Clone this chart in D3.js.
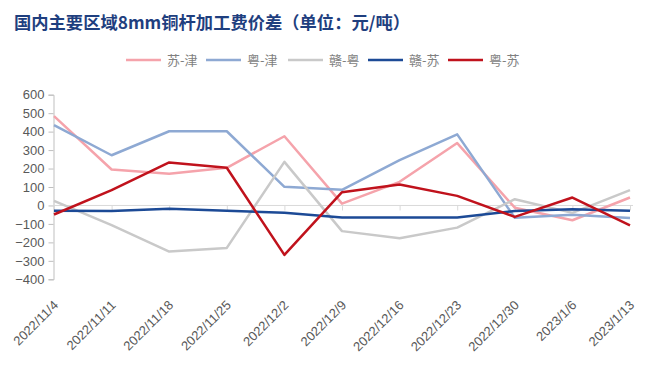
<!DOCTYPE html>
<html><head><meta charset="utf-8">
<script src="https://cdn.jsdelivr.net/npm/d3@7"></script>
<style>html,body{margin:0;padding:0;background:#fff;}svg{display:block;}</style>
</head><body>
<script>
const titleText = "国内主要区域8mm铜杆加工费价差（单位：元/吨）";
const dates = ["2022/11/4","2022/11/11","2022/11/18","2022/11/25","2022/12/2","2022/12/9","2022/12/16","2022/12/23","2022/12/30","2023/1/6","2023/1/13"];
const seriesNames = ["苏-津","粤-津","赣-粤","赣-苏","粤-苏"];
const suJin  = [484, 195, 172, 204, 375, 10, 128, 338, -12, -80, 43];
const yueJin = [435, 272, 402, 402, 101, 85, 245, 385, -67, -50, -68];
const ganYue = [25, -107, -250, -230, 236, -139, -178, -120, 34, -40, 83];
const ganSu  = [-28, -30, -18, -28, -40, -65, -65, -65, -30, -20, -28];
const yueSu  = [-49, 83, 233, 204, -268, 72, 114, 52, -62, 43, -108];
const yTicks = [600,500,400,300,200,100,0,-100,-200,-300,-400];
const colors = ["#F5A3AB","#8EA9D3","#C9C9C9","#1C4A96","#C0121C"];

const W = 653, H = 369;
const svg = d3.select("body").append("svg").attr("width", W).attr("height", H);

const x = d3.scalePoint().domain(dates).range([54, 630]);
const y = d3.scaleLinear().domain([-400, 600]).range([279.3, 94.7]);

// title
svg.append("text").attr("x", 14).attr("y", 29)
  .attr("font-family", "'Noto Sans CJK SC', sans-serif").attr("font-weight", "bold")
  .attr("font-size", 17).attr("fill", "#1F3F7F")
  .attr("textLength", 396).attr("lengthAdjust", "spacingAndGlyphs")
  .text(titleText);

// legend
const legendX = [126, 206, 288, 368, 448];
const lg = svg.append("g");
seriesNames.forEach((n, i) => {
  lg.append("line").attr("x1", legendX[i]).attr("x2", legendX[i] + 35)
    .attr("y1", 60).attr("y2", 60).attr("stroke", colors[i]).attr("stroke-width", 2.5);
  lg.append("text").attr("x", legendX[i] + 41).attr("y", 64.5)
    .attr("font-family", "'Noto Sans CJK SC', sans-serif").attr("font-size", 13)
    .attr("fill", "#7F7F7F").text(n);
});

// y axis
const yAxis = svg.append("g").attr("transform", "translate(53.5,0)")
  .call(d3.axisLeft(y).tickValues(yTicks).tickSize(5).tickPadding(4).tickFormat(d3.format("d")));
yAxis.select(".domain").attr("stroke", "#BFBFBF");
yAxis.selectAll(".tick line").attr("stroke", "#BFBFBF");
yAxis.selectAll(".tick text").attr("fill", "#595959").attr("font-size", 13)
  .attr("font-family", "'Liberation Sans', Arial, sans-serif");

// zero category axis
const xAxis = svg.append("g").attr("transform", `translate(0,${y(0)})`)
  .call(d3.axisBottom(x).tickSize(5).tickFormat(""));
xAxis.select(".domain").attr("stroke", "#D9D9D9").attr("d", `M53.5,0H633`);
xAxis.selectAll(".tick line").attr("stroke", "#D9D9D9");

// x labels
svg.append("g").selectAll("text").data(dates).join("text")
  .attr("transform", d => `translate(${x(d) + 5},306) rotate(-45)`)
  .attr("text-anchor", "end")
  .attr("font-family", "'Liberation Sans', Arial, sans-serif").attr("font-size", 13)
  .attr("fill", "#595959").text(d => d);

// lines
const allSeries = [suJin, yueJin, ganYue, ganSu, yueSu];
const line = d3.line().x((d, i) => x(dates[i])).y(d => y(d));
allSeries.forEach((s, i) => {
  svg.append("path").datum(s).attr("d", line).attr("fill", "none")
    .attr("stroke", colors[i]).attr("stroke-width", 2.5).attr("stroke-linejoin", "round");
});
</script>
</body></html>
